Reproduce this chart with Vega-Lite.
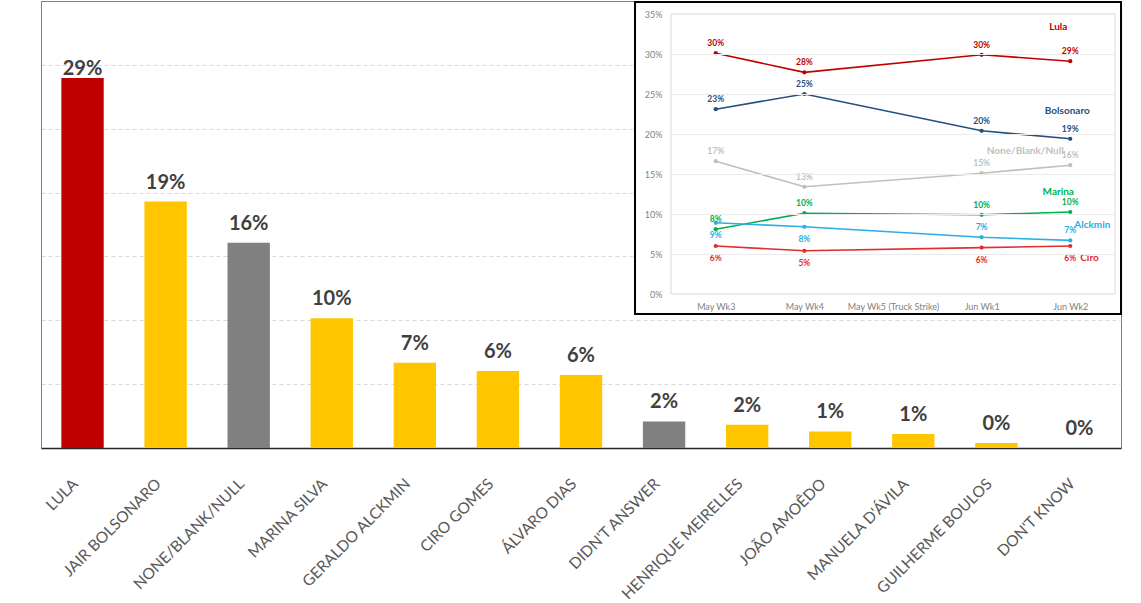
{
  "$schema": "https://vega.github.io/schema/vega-lite/v6.json",
  "width": 1080,
  "height": 447,
  "autosize": {"type": "none"},
  "padding": {"left": 41, "top": 1, "right": 20, "bottom": 155},
  "background": "white",
  "config": {"font": "Lato", "view": {"stroke": "#7F7F7F", "strokeWidth": 1}},
  "datasets": {
    "bars": [
      {"candidate": "LULA", "share": 0.2898, "kind": "Lula"},
      {"candidate": "JAIR BOLSONARO", "share": 0.193, "kind": "Candidate"},
      {"candidate": "NONE/BLANK/NULL", "share": 0.1607, "kind": "Non-vote"},
      {"candidate": "MARINA SILVA", "share": 0.1016, "kind": "Candidate"},
      {"candidate": "GERALDO ALCKMIN", "share": 0.0668, "kind": "Candidate"},
      {"candidate": "CIRO GOMES", "share": 0.0602, "kind": "Candidate"},
      {"candidate": "ÁLVARO DIAS", "share": 0.0572, "kind": "Candidate"},
      {"candidate": "DIDN'T ANSWER", "share": 0.0208, "kind": "Non-vote"},
      {"candidate": "HENRIQUE MEIRELLES", "share": 0.0183, "kind": "Candidate"},
      {"candidate": "JOÃO AMOÊDO", "share": 0.013, "kind": "Candidate"},
      {"candidate": "MANUELA D'ÁVILA", "share": 0.011, "kind": "Candidate"},
      {"candidate": "GUILHERME BOULOS", "share": 0.0039, "kind": "Candidate"},
      {"candidate": "DON'T KNOW", "share": 0.0, "kind": "Non-vote"}
    ],
    "trend": [
      {"week": "May Wk3", "wk": 0, "series": "Lula", "share": 0.301},
      {"week": "May Wk4", "wk": 1, "series": "Lula", "share": 0.277},
      {"week": "Jun Wk1", "wk": 3, "series": "Lula", "share": 0.299},
      {"week": "Jun Wk2", "wk": 4, "series": "Lula", "share": 0.291},
      {"week": "May Wk3", "wk": 0, "series": "Bolsonaro", "share": 0.231},
      {"week": "May Wk4", "wk": 1, "series": "Bolsonaro", "share": 0.25},
      {"week": "Jun Wk1", "wk": 3, "series": "Bolsonaro", "share": 0.204},
      {"week": "Jun Wk2", "wk": 4, "series": "Bolsonaro", "share": 0.194},
      {"week": "May Wk3", "wk": 0, "series": "None/Blank/Null", "share": 0.166},
      {"week": "May Wk4", "wk": 1, "series": "None/Blank/Null", "share": 0.134},
      {"week": "Jun Wk1", "wk": 3, "series": "None/Blank/Null", "share": 0.151},
      {"week": "Jun Wk2", "wk": 4, "series": "None/Blank/Null", "share": 0.161},
      {"week": "May Wk3", "wk": 0, "series": "Marina", "share": 0.081},
      {"week": "May Wk4", "wk": 1, "series": "Marina", "share": 0.101},
      {"week": "Jun Wk1", "wk": 3, "series": "Marina", "share": 0.099},
      {"week": "Jun Wk2", "wk": 4, "series": "Marina", "share": 0.1025},
      {"week": "May Wk3", "wk": 0, "series": "Alckmin", "share": 0.089},
      {"week": "May Wk4", "wk": 1, "series": "Alckmin", "share": 0.084},
      {"week": "Jun Wk1", "wk": 3, "series": "Alckmin", "share": 0.071},
      {"week": "Jun Wk2", "wk": 4, "series": "Alckmin", "share": 0.067},
      {"week": "May Wk3", "wk": 0, "series": "Ciro", "share": 0.06},
      {"week": "May Wk4", "wk": 1, "series": "Ciro", "share": 0.054},
      {"week": "Jun Wk1", "wk": 3, "series": "Ciro", "share": 0.058},
      {"week": "Jun Wk2", "wk": 4, "series": "Ciro", "share": 0.06}
    ],
    "frame": [{"box": "inset"}]
  },
  "layer": [
    {
      "data": {"name": "bars"},
      "layer": [
        {
          "mark": {"type": "bar"},
          "encoding": {
            "x": {
              "field": "candidate", "type": "nominal", "sort": null, "title": null,
              "scale": {"paddingInner": 0.49, "paddingOuter": 0.245},
              "axis": {"labelAngle": -45, "labelFontSize": 15.5, "labelColor": "#595959", "ticks": false, "domainColor": "#262626", "domainWidth": 1.5, "labelPadding": 28, "labelOffset": -12, "labelFont": "Lato"}
            },
            "y": {
              "field": "share", "type": "quantitative", "title": null,
              "scale": {"domain": [0, 0.35], "nice": false, "zero": true},
              "axis": {"labels": false, "ticks": false, "domain": true, "domainColor": "#7F7F7F", "grid": true, "gridDash": [4, 3], "gridColor": "#D9D9D9", "values": [0.05, 0.1, 0.15, 0.2, 0.25, 0.3]}
            },
            "color": {
              "field": "kind", "type": "nominal", "legend": null,
              "scale": {"domain": ["Lula", "Candidate", "Non-vote"], "range": ["#C00000", "#FFC600", "#808080"]}
            }
          }
        },
        {
          "transform": [{"filter": "datum.candidate == 'LULA'"}],
          "mark": {"type": "text", "fontWeight": "bold", "fontSize": 20, "color": "#404040", "baseline": "alphabetic", "dy": -3},
          "encoding": {
            "x": {"field": "candidate", "type": "nominal", "sort": null, "title": null},
            "y": {"field": "share", "type": "quantitative", "title": null},
            "text": {"field": "share", "type": "quantitative", "format": ".0%"}
          }
        },
        {
          "transform": [{"filter": "datum.candidate != 'LULA'"}],
          "mark": {"type": "text", "fontWeight": "bold", "fontSize": 20, "color": "#404040", "baseline": "alphabetic", "dy": -13},
          "encoding": {
            "x": {"field": "candidate", "type": "nominal", "sort": null, "title": null},
            "y": {"field": "share", "type": "quantitative", "title": null},
            "text": {"field": "share", "type": "quantitative", "format": ".0%"}
          }
        }
      ]
    },
    {
      "layer": [
        {
          "data": {"name": "frame"},
          "mark": {"type": "rect", "fill": "white", "stroke": "#000000", "strokeWidth": 2},
          "encoding": {
            "x": {
              "datum": -0.911, "type": "quantitative", "title": null,
              "scale": {"domain": [-0.505, 4.505], "range": [630, 1074], "zero": false, "nice": false},
              "axis": {"orient": "bottom", "offset": -154, "values": [0, 1, 2, 3, 4], "labelExpr": "['May Wk3','May Wk4','May Wk5 (Truck Strike)','Jun Wk1','Jun Wk2'][datum.value]", "title": null, "grid": false, "ticks": false, "domain": false, "labelFontSize": 9, "labelColor": "#7F7F7F", "labelPadding": 8, "labelFlush": false, "labelOverlap": false, "zindex": 1}
            },
            "x2": {"datum": 4.573},
            "y": {
              "datum": 0.365, "type": "quantitative", "title": null,
              "scale": {"domain": [0, 0.35], "range": [293, 13], "zero": false, "nice": false},
              "axis": {"orient": "left", "offset": -630, "values": [0, 0.05, 0.1, 0.15, 0.2, 0.25, 0.3, 0.35], "format": ".0%", "title": null, "grid": true, "gridColor": "#EBEBEB", "ticks": false, "domain": false, "labelFontSize": 9, "labelColor": "#7F7F7F", "labelPadding": 9, "zindex": 1}
            },
            "y2": {"datum": -0.025}
          }
        },
        {
          "data": {"name": "frame"},
          "mark": {"type": "rect", "fill": null, "stroke": "#D9D9D9", "strokeWidth": 1},
          "encoding": {
            "x": {"datum": -0.505, "type": "quantitative", "title": null},
            "x2": {"datum": 4.505},
            "y": {"datum": 0.35, "type": "quantitative", "title": null},
            "y2": {"datum": 0}
          }
        },
        {
          "data": {"name": "trend"},
          "mark": {"type": "line", "strokeWidth": 1.6},
          "encoding": {
            "x": {"field": "wk", "type": "quantitative", "title": null},
            "y": {"field": "share", "type": "quantitative", "title": null},
            "color": {
              "field": "series", "type": "nominal", "legend": null,
              "scale": {"domain": ["Lula", "Bolsonaro", "None/Blank/Null", "Marina", "Alckmin", "Ciro"], "range": ["#C00000", "#24507F", "#BFBFBF", "#00B050", "#2AAEE6", "#E02D2D"]}
            }
          }
        },
        {
          "data": {"name": "trend"},
          "mark": {"type": "circle", "size": 18, "opacity": 1},
          "encoding": {
            "x": {"field": "wk", "type": "quantitative", "title": null},
            "y": {"field": "share", "type": "quantitative", "title": null},
            "color": {"field": "series", "type": "nominal", "legend": null}
          }
        },
        {
          "data": {"name": "trend"},
          "transform": [{"filter": "!(datum.series == 'Ciro' || (datum.series == 'Alckmin' && datum.wk < 2))"}],
          "mark": {"type": "text", "fontWeight": "bold", "fontSize": 8.5, "baseline": "middle", "dy": -10},
          "encoding": {
            "x": {"field": "wk", "type": "quantitative", "title": null},
            "y": {"field": "share", "type": "quantitative", "title": null},
            "color": {"field": "series", "type": "nominal", "legend": null},
            "text": {"field": "share", "type": "quantitative", "format": ".0%"}
          }
        },
        {
          "data": {"name": "trend"},
          "transform": [{"filter": "datum.series == 'Ciro' || (datum.series == 'Alckmin' && datum.wk < 2)"}],
          "mark": {"type": "text", "fontWeight": "bold", "fontSize": 8.5, "baseline": "middle", "dy": 12},
          "encoding": {
            "x": {"field": "wk", "type": "quantitative", "title": null},
            "y": {"field": "share", "type": "quantitative", "title": null},
            "color": {"field": "series", "type": "nominal", "legend": null},
            "text": {"field": "share", "type": "quantitative", "format": ".0%"}
          }
        },
        {
          "data": {"name": "trend"},
          "transform": [{"filter": "datum.wk == 4 && datum.series == 'Lula'"}],
          "mark": {"type": "text", "fontWeight": "bold", "fontSize": 10, "baseline": "middle", "align": "center", "dx": -12, "dy": -34},
          "encoding": {
            "x": {"field": "wk", "type": "quantitative", "title": null},
            "y": {"field": "share", "type": "quantitative", "title": null},
            "color": {"field": "series", "type": "nominal", "legend": null},
            "text": {"field": "series", "type": "nominal"}
          }
        },
        {
          "data": {"name": "trend"},
          "transform": [{"filter": "datum.wk == 4 && datum.series == 'Bolsonaro'"}],
          "mark": {"type": "text", "fontWeight": "bold", "fontSize": 10, "baseline": "middle", "align": "center", "dx": -3, "dy": -28},
          "encoding": {
            "x": {"field": "wk", "type": "quantitative", "title": null},
            "y": {"field": "share", "type": "quantitative", "title": null},
            "color": {"field": "series", "type": "nominal", "legend": null},
            "text": {"field": "series", "type": "nominal"}
          }
        },
        {
          "data": {"name": "trend"},
          "transform": [{"filter": "datum.wk == 4 && datum.series == 'None/Blank/Null'"}],
          "mark": {"type": "text", "fontWeight": "bold", "fontSize": 10, "baseline": "middle", "align": "center", "dx": -45, "dy": -14},
          "encoding": {
            "x": {"field": "wk", "type": "quantitative", "title": null},
            "y": {"field": "share", "type": "quantitative", "title": null},
            "color": {"field": "series", "type": "nominal", "legend": null},
            "text": {"field": "series", "type": "nominal"}
          }
        },
        {
          "data": {"name": "trend"},
          "transform": [{"filter": "datum.wk == 4 && datum.series == 'Marina'"}],
          "mark": {"type": "text", "fontWeight": "bold", "fontSize": 10, "baseline": "middle", "align": "center", "dx": -12, "dy": -20},
          "encoding": {
            "x": {"field": "wk", "type": "quantitative", "title": null},
            "y": {"field": "share", "type": "quantitative", "title": null},
            "color": {"field": "series", "type": "nominal", "legend": null},
            "text": {"field": "series", "type": "nominal"}
          }
        },
        {
          "data": {"name": "trend"},
          "transform": [{"filter": "datum.wk == 4 && datum.series == 'Alckmin'"}],
          "mark": {"type": "text", "fontWeight": "bold", "fontSize": 10, "baseline": "middle", "align": "left", "dx": 4, "dy": -15},
          "encoding": {
            "x": {"field": "wk", "type": "quantitative", "title": null},
            "y": {"field": "share", "type": "quantitative", "title": null},
            "color": {"field": "series", "type": "nominal", "legend": null},
            "text": {"field": "series", "type": "nominal"}
          }
        },
        {
          "data": {"name": "trend"},
          "transform": [{"filter": "datum.wk == 4 && datum.series == 'Ciro'"}],
          "mark": {"type": "text", "fontWeight": "bold", "fontSize": 10, "baseline": "middle", "align": "left", "dx": 10, "dy": 12},
          "encoding": {
            "x": {"field": "wk", "type": "quantitative", "title": null},
            "y": {"field": "share", "type": "quantitative", "title": null},
            "color": {"field": "series", "type": "nominal", "legend": null},
            "text": {"field": "series", "type": "nominal"}
          }
        }
      ]
    }
  ],
  "resolve": {
    "scale": {"x": "independent", "y": "independent", "color": "independent"},
    "axis": {"x": "independent", "y": "independent"}
  }
}
